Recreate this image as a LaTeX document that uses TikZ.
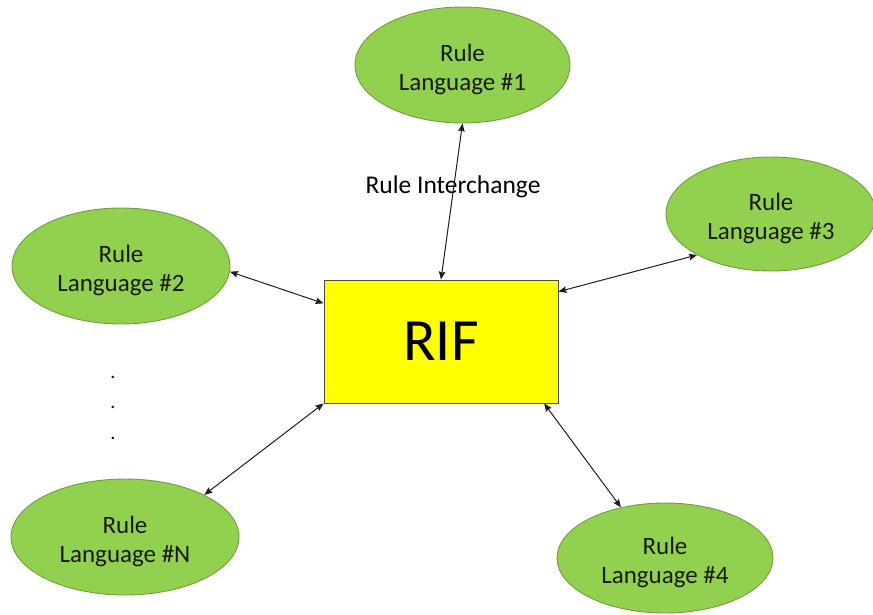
\documentclass[tikz,border=0pt]{standalone}
\usepackage{fontspec}
\setmainfont{Carlito}
\usetikzlibrary{shapes.geometric,arrows.meta}

\definecolor{langgreen}{HTML}{92D050}
\definecolor{langedge}{HTML}{6F9E3C}
\definecolor{rifyellow}{HTML}{FFFF00}
\definecolor{rifedge}{HTML}{4D4D3A}
\definecolor{linkgray}{HTML}{1E1E1E}

% two centred lines; the strut lowers the text a little inside the ellipse
\newcommand{\langlines}[2]{\rule{0pt}{26pt}#1\\#2}

\tikzset{
  lang/.style={ellipse, draw=langedge, line width=0.9pt, fill=langgreen,
    inner sep=0pt, align=center, font=\fontsize{25}{29.5}\selectfont,
    text=black!90},
  rifbox/.style={rectangle, draw=rifedge, line width=0.9pt, fill=rifyellow,
    minimum width=234pt, minimum height=123pt, inner sep=0pt,
    font=\fontsize{60}{60}\selectfont},
  link/.style={draw=linkgray, line width=1pt,
    {Stealth[length=8pt,width=6.5pt,inset=1pt]}-{Stealth[length=8pt,width=6.5pt,inset=1pt]}},
  dotmark/.style={font=\fontsize{20}{20}\selectfont, inner sep=0pt}
}

\begin{document}
\begin{tikzpicture}[x=1pt,y=-1pt]
  \useasboundingbox (0,0) rectangle (873,614);

  % central interchange format
  \node[rifbox] (rif) at (441,341.5) {RIF};

  % rule languages around it
  \node[lang, minimum width=215pt, minimum height=116pt] (r1) at (462.5,65) {\langlines{Rule}{Language \#1}};
  \node[lang, minimum width=210pt, minimum height=114pt] (r3) at (771,214) {\langlines{Rule}{Language \#3}};
  \node[lang, minimum width=218pt, minimum height=116pt] (r2) at (121,266) {\langlines{Rule}{Language \#2}};
  \node[lang, minimum width=228pt, minimum height=116pt] (rn) at (125,537) {\langlines{Rule}{Language \#N}};
  \node[lang, minimum width=216pt, minimum height=110pt] (r4) at (665,558) {\langlines{Rule}{Language \#4}};

  % ellipsis between #2 and #N
  \node[dotmark] (d1) at (113,377) {.};
  \node[dotmark] (d2) at (113,407) {.};
  \node[dotmark] (d3) at (113,438) {.};

  % label of the exchange
  \node[font=\fontsize{25.5}{30}\selectfont, inner sep=0pt] (lbl) at (453,187) {Rule Interchange};

  % exchange links
  \draw[link] (r1.south) -- (rif.north);
  \draw[link] (rif.23.75) -- (r3.209.3);
  \draw[link] (r2.-3) -- (rif.162);
  \draw[link] (rif.south west) -- (rn.28.8);
  \draw[link] (rif.-31.6) -- (r4.131.3);
\end{tikzpicture}
\end{document}
